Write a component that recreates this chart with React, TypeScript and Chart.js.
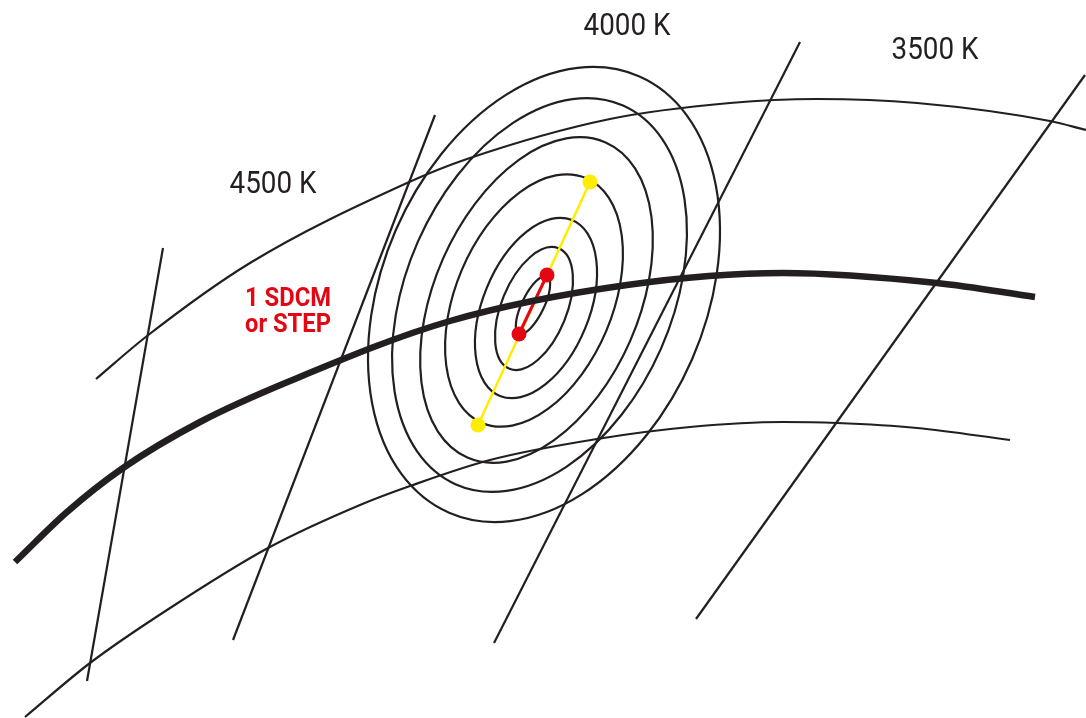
import React, { useEffect, useRef } from "react";
import { Chart, registerables } from "chart.js";

Chart.register(...registerables);

// Planckian locus (thick black curve), chromaticity-diagram coordinates
const locusX = [15, 67, 123, 200, 290, 450, 627, 783, 937, 1035];
const locusY = [562, 512, 468, 422, 381, 321, 285, 273, 283, 297];

// upper and lower thin Duv curves
const upperX = [96, 147, 250, 407, 467, 610, 730, 817, 917, 1050, 1086];
const upperY = [379, 336, 263, 183, 159, 119, 103, 99, 103, 121, 130];
const lowerX = [25, 90, 167, 268, 360, 410, 490, 597, 690, 783, 837, 917, 1010];
const lowerY = [717, 663, 610, 548, 505, 486, 460, 439, 427, 422, 423, 428, 440];

// isotemperature lines (start / end)
const isoX1 = [163, 435, 800, 1085];
const isoY1 = [248, 115, 42, 75];
const isoX2 = [87, 233, 494, 696];
const isoY2 = [681, 640, 643, 619];

// MacAdam ellipses (1..7 steps, outermost first)
const ellCx = [544, 539.5, 536.5, 534, 536, 534, 533];
const ellCy = [294.5, 295, 300, 300.5, 308, 308.5, 305];
const ellA = [238, 207, 172, 133, 95, 65, 32];
const ellB = [161.6, 132.8, 102.2, 78.4, 53.2, 32.7, 11];
const ellAngle = [66.5, 66.2, 66.3, 67, 67.7, 67.8, 64];

// 4-step segment (yellow) and 1-step segment (red)
const yellowX = [590, 478];
const yellowY = [182, 425];
const redX = [547, 519];
const redY = [275, 334];

// labels
const tempLabels = ["4500 K", "4000 K", "3500 K"];
const tempLabelX = [273, 627, 935];
const tempLabelY = [185, 27, 51];
const stepLabels = ["1 SDCM", "or STEP"];
const stepLabelX = [288, 288];
const stepLabelY = [300, 326];

const INK = "#231f20";
const RED = "#e30613";
const YELLOW = "#ffed00";

const pts = (xs: number[], ys: number[]) => xs.map((x, i) => ({ x, y: ys[i] }));

const ellipsePlugin = {
  id: "macadamEllipses",
  beforeDatasetsDraw(chart: any) {
    const { ctx, scales } = chart;
    const xs = scales.x;
    const ys = scales.y;
    ctx.save();
    ctx.strokeStyle = INK;
    ctx.lineWidth = 2.2;
    for (let i = 0; i < ellCx.length; i++) {
      const cx = xs.getPixelForValue(ellCx[i]);
      const cy = ys.getPixelForValue(ellCy[i]);
      const rx = Math.abs(xs.getPixelForValue(ellCx[i] + ellA[i]) - cx);
      const ry = Math.abs(xs.getPixelForValue(ellCx[i] + ellB[i]) - cx);
      ctx.beginPath();
      ctx.ellipse(cx, cy, rx, ry, (-ellAngle[i] * Math.PI) / 180, 0, Math.PI * 2);
      ctx.stroke();
    }
    ctx.restore();
  },
};

const labelPlugin = {
  id: "diagramLabels",
  afterDatasetsDraw(chart: any) {
    const { ctx, scales } = chart;
    const xs = scales.x;
    const ys = scales.y;
    ctx.save();
    ctx.textAlign = "center";
    ctx.textBaseline = "middle";
    ctx.fillStyle = INK;
    ctx.font = "32px Roboto, 'Liberation Sans', sans-serif";
    tempLabels.forEach((t, i) => {
      ctx.save();
      ctx.translate(xs.getPixelForValue(tempLabelX[i]), ys.getPixelForValue(tempLabelY[i]));
      ctx.scale(0.87, 1);
      ctx.fillText(t, 0, 0);
      ctx.restore();
    });
    ctx.fillStyle = RED;
    ctx.font = "bold 25px Roboto, 'Liberation Sans', sans-serif";
    stepLabels.forEach((t, i) => {
      ctx.save();
      ctx.translate(xs.getPixelForValue(stepLabelX[i]), ys.getPixelForValue(stepLabelY[i]));
      ctx.scale(0.95, 1);
      ctx.fillText(t, 0, 0);
      ctx.restore();
    });
    ctx.restore();
  },
};

export default function App() {
  const ref = useRef<HTMLCanvasElement | null>(null);

  useEffect(() => {
    if (!ref.current) return;
    const curve = (data: any[], width: number, order: number) => ({
      data,
      showLine: true,
      borderColor: INK,
      borderWidth: width,
      pointRadius: 0,
      cubicInterpolationMode: "monotone",
      clip: false,
      order,
    });
    const isoSets = isoX1.map((_, i) => ({
      data: [
        { x: isoX1[i], y: isoY1[i] },
        { x: isoX2[i], y: isoY2[i] },
      ],
      showLine: true,
      borderColor: INK,
      borderWidth: 2.2,
      pointRadius: 0,
      clip: false,
      order: 5,
    }));
    const chart = new Chart(ref.current, {
      type: "scatter",
      data: {
        datasets: [
          curve(pts(locusX, locusY), 6.5, 1),
          curve(pts(upperX, upperY), 2.2, 4),
          curve(pts(lowerX, lowerY), 2.2, 4),
          ...isoSets,
          {
            data: pts(yellowX, yellowY),
            showLine: true,
            borderColor: YELLOW,
            borderWidth: 2.5,
            pointRadius: 7.5,
            pointBackgroundColor: YELLOW,
            pointBorderWidth: 0,
            pointBorderColor: YELLOW,
            clip: false,
            order: 3,
          },
          {
            data: pts(redX, redY),
            showLine: true,
            borderColor: RED,
            borderWidth: 3,
            pointRadius: 7.5,
            pointBackgroundColor: RED,
            pointBorderWidth: 0,
            pointBorderColor: RED,
            clip: false,
            order: 2,
          },
        ] as any,
      },
      options: {
        animation: false,
        responsive: false,
        maintainAspectRatio: false,
        layout: { padding: 0, autoPadding: false },
        events: [],
        plugins: {
          legend: { display: false },
          tooltip: { enabled: false },
        },
        scales: {
          x: { type: "linear", min: 0, max: 1086, display: false },
          y: { type: "linear", min: 0, max: 718, reverse: true, display: false },
        },
      },
      plugins: [ellipsePlugin, labelPlugin],
    });
    return () => chart.destroy();
  }, []);

  return (
    <div style={{ position: "absolute", left: 0, top: 0, width: 1086, height: 718, background: "#fff" }}>
      <canvas ref={ref} width={1086} height={718} style={{ display: "block" }} />
    </div>
  );
}
